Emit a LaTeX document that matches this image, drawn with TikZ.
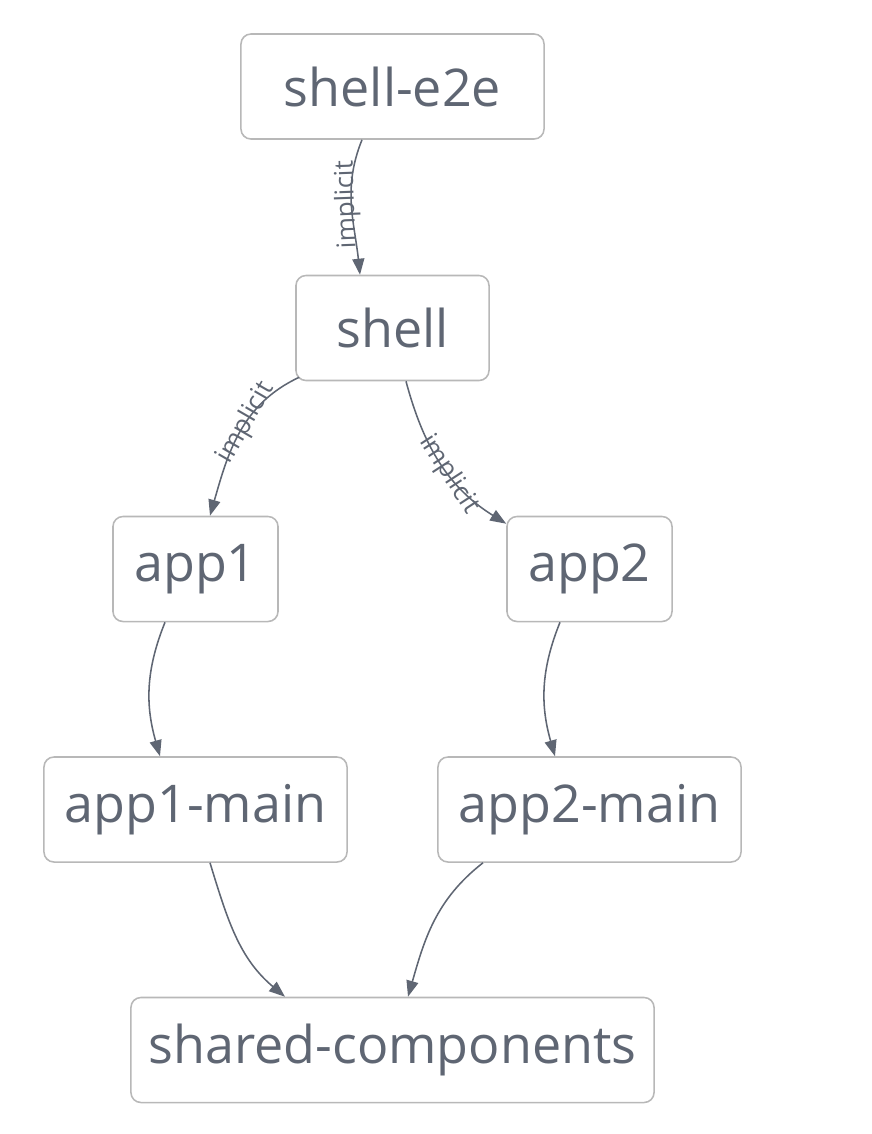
\documentclass[tikz,border=0pt]{standalone}
\usepackage{fontspec}
\setmainfont{Open Sans}
\usetikzlibrary{arrows.meta}
\definecolor{txtgray}{RGB}{95,102,115}
\definecolor{boxgray}{RGB}{184,184,184}

\begin{document}
\begin{tikzpicture}[x=0.025cm, y=0.025cm,
    >={Triangle[length=0.4cm, width=0.3cm]},
    pkg/.style={draw=boxgray, line width=1.1pt, rounded corners=0.25cm,
                fill=white, text=txtgray, inner sep=0pt,
                font=\fontsize{37}{44}\selectfont, minimum height=2.625cm},
    dep/.style={->, draw=txtgray, line width=1.1pt},
    lbl/.style={text=txtgray, inner sep=0pt,
                font=\fontsize{18.5}{22}\selectfont}]
    \useasboundingbox (0,0) rectangle (872,-1134);
    \node[pkg, minimum width=7.575cm] (e2e) at (392.5,-86.5) {shell-e2e};
    \node[pkg, minimum width=4.825cm] (shell) at (392.5,-328) {shell};
    \node[pkg, minimum width=4.125cm] (app1) at (195.5,-569) {app1};
    \node[pkg, minimum width=4.125cm] (app2) at (589.5,-569) {app2};
    \node[pkg, minimum width=7.575cm] (app1main) at (195.5,-809.5)
      {app1-main};
    \node[pkg, minimum width=7.575cm] (app2main) at (589.5,-809.5)
      {app2-main};
    \node[pkg, minimum width=13.075cm] (shared) at (392.5,-1050)
      {shared-components};
    \draw[dep] ([xshift=-0.7625cm]e2e.south) to[out=-112, in=96]
      node[lbl, pos=0.5, rotate=92, xshift=1pt, yshift=3pt] {implicit}
      ([xshift=-0.8125cm]shell.north);
    \draw[dep] ([xshift=0.1cm, yshift=0.1cm]shell.south west)
      to[out=205, in=74]
      node[lbl, pos=0.42, rotate=60] {implicit}
      ([xshift=0.3625cm]app1.north);
    \draw[dep] ([xshift=0.3375cm]shell.south) to[out=-75, in=148]
      node[lbl, pos=0.58, rotate=-57] {implicit}
      ([yshift=-0.2cm]app2.north west);
    \draw[dep] ([xshift=-0.7625cm]app1.south) to[out=-112, in=106]
      ([xshift=-0.8875cm]app1main.north);
    \draw[dep] ([xshift=-0.7375cm]app2.south) to[out=-112, in=106]
      ([xshift=-0.8625cm]app2main.north);
    \draw[dep] ([xshift=0.3625cm]app1main.south) to[out=-73, in=140]
      ([xshift=-2.6875cm]shared.north);
    \draw[dep] ([xshift=-2.6625cm]app2main.south) to[out=218, in=74]
      ([xshift=0.3875cm]shared.north);
\end{tikzpicture}
\end{document}
